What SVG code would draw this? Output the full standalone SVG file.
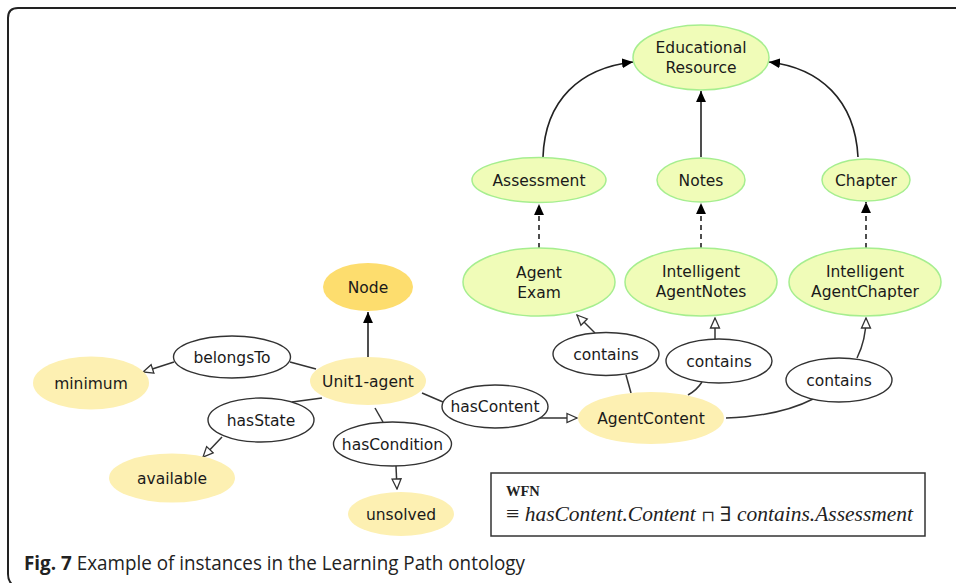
<svg xmlns="http://www.w3.org/2000/svg" width="956" height="583" viewBox="0 0 956 583">
<style>
.lbl{font-family:"DejaVu Sans",Verdana,sans-serif;font-size:15.5px;fill:#1a1a1a;text-anchor:middle}
.green{fill:#f0fcb8;stroke:#a6ee8f;stroke-width:1.5}
.yel{fill:#fdf0b2;stroke:none}
.cls{fill:#fddd6e;stroke:none}
.prop{fill:#fff;stroke:#333;stroke-width:1.4}
.e{fill:none;stroke:#333;stroke-width:1.5}
.ef{fill:none;stroke:#222;stroke-width:1.6;marker-end:url(#af)}
.eo{fill:none;stroke:#333;stroke-width:1.5;marker-end:url(#ao)}
.ed{fill:none;stroke:#222;stroke-width:1.6;stroke-dasharray:5 4;marker-end:url(#af)}
</style>
<defs>
<marker id="af" viewBox="0 0 10 10" refX="10" refY="5" markerWidth="11" markerHeight="11" orient="auto" markerUnits="userSpaceOnUse"><path d="M0,0.5 L10,5 L0,9.5 z" fill="#000"/></marker>
<marker id="ao" viewBox="0 0 12 12" refX="11" refY="6" markerWidth="12" markerHeight="12" orient="auto" markerUnits="userSpaceOnUse"><path d="M1,1.5 L11,6 L1,10.5 z" fill="#fff" stroke="#333" stroke-width="1.3"/></marker>
</defs>
<rect width="956" height="583" fill="#fff"/>
<path d="M956,8 H18 Q8,8 8,18 V574 Q8,582 14,586" fill="none" stroke="#222" stroke-width="2"/>

<g id="connectors">
<path class="ef" d="M543,157 C545,100 580,68 633,62"/>
<path class="ef" d="M701,157 L701,91"/>
<path class="ef" d="M858,157 C855,100 820,68 769,62"/>
<path class="ed" d="M539,248 L539,204"/>
<path class="ed" d="M701,248 L701,203"/>
<path class="ed" d="M866,248 L866,202"/>
<path class="ef" d="M368,357 L368,312"/>
<path class="e" d="M316,369 L290,362"/>
<path class="eo" d="M174,362 L143,372"/>
<path class="e" d="M322,398 L292,402"/>
<path class="eo" d="M222,437 L203,457"/>
<path class="e" d="M375,408 L383,422"/>
<path class="eo" d="M396,466 L397,489"/>
<path class="e" d="M422,393 L443,402"/>
<path class="eo" d="M540,418 L577,418"/>
<path class="e" d="M631,393 L626,375"/>
<path class="eo" d="M595,333 L577,315"/>
<path class="e" d="M688,395 Q697,390 702,382"/>
<path class="eo" d="M715,339 L715,318"/>
<path class="e" d="M726,418 Q780,416 813,399"/>
<path class="eo" d="M857,358 Q866,340 866,318"/>
</g>

<g id="n-eduresource"><ellipse class="green" cx="701" cy="57.5" rx="68" ry="32.5"/><text class="lbl" x="701" y="53">Educational</text><text class="lbl" x="701" y="73">Resource</text></g>
<g id="n-assessment"><ellipse class="green" cx="539" cy="180" rx="67" ry="22.5"/><text class="lbl" x="539" y="185.5">Assessment</text></g>
<g id="n-notes"><ellipse class="green" cx="701" cy="180" rx="44" ry="22"/><text class="lbl" x="701" y="185.5">Notes</text></g>
<g id="n-chapter"><ellipse class="green" cx="866" cy="180" rx="44" ry="21"/><text class="lbl" x="866" y="185.5">Chapter</text></g>
<g id="n-agentexam"><ellipse class="green" cx="539" cy="282" rx="76" ry="34"/><text class="lbl" x="539" y="278">Agent</text><text class="lbl" x="539" y="298">Exam</text></g>
<g id="n-agentnotes"><ellipse class="green" cx="701" cy="282" rx="76" ry="34"/><text class="lbl" x="701" y="277">Intelligent</text><text class="lbl" x="701" y="297">AgentNotes</text></g>
<g id="n-agentchapter"><ellipse class="green" cx="865" cy="282" rx="76" ry="34"/><text class="lbl" x="865" y="277">Intelligent</text><text class="lbl" x="865" y="297">AgentChapter</text></g>

<g id="n-node"><ellipse class="cls" cx="368" cy="287" rx="45" ry="24"/><text class="lbl" x="368" y="292.5">Node</text></g>
<g id="n-unit1"><ellipse class="yel" cx="368" cy="381" rx="58" ry="24"/><text class="lbl" x="368" y="386.5">Unit1-agent</text></g>
<g id="n-belongsto"><ellipse class="prop" cx="232" cy="357" rx="58.5" ry="21"/><text class="lbl" x="232" y="362.5">belongsTo</text></g>
<g id="n-minimum"><ellipse class="yel" cx="91" cy="383" rx="58" ry="26.5"/><text class="lbl" x="91" y="388.5">minimum</text></g>
<g id="n-hasstate"><ellipse class="prop" cx="261" cy="420" rx="53" ry="22"/><text class="lbl" x="261" y="425.5">hasState</text></g>
<g id="n-available"><ellipse class="yel" cx="172" cy="478" rx="63" ry="24.5"/><text class="lbl" x="172" y="483.5">available</text></g>
<g id="n-hascondition"><ellipse class="prop" cx="392.5" cy="444" rx="59" ry="22"/><text class="lbl" x="392.5" y="449.5">hasCondition</text></g>
<g id="n-unsolved"><ellipse class="yel" cx="401" cy="514" rx="53" ry="22"/><text class="lbl" x="401" y="519.5">unsolved</text></g>
<g id="n-hascontent"><ellipse class="prop" cx="495" cy="406.5" rx="53" ry="21.5"/><text class="lbl" x="495" y="412">hasContent</text></g>
<g id="n-agentcontent"><ellipse class="yel" cx="651" cy="418" rx="73" ry="26"/><text class="lbl" x="651" y="423.5">AgentContent</text></g>
<g id="n-contains1"><ellipse class="prop" cx="606" cy="354" rx="53" ry="21.5"/><text class="lbl" x="606" y="359.5">contains</text></g>
<g id="n-contains2"><ellipse class="prop" cx="719" cy="361" rx="53" ry="22"/><text class="lbl" x="719" y="366.5">contains</text></g>
<g id="n-contains3"><ellipse class="prop" cx="839" cy="380" rx="53" ry="22"/><text class="lbl" x="839" y="385.5">contains</text></g>

<g id="wfn">
<rect x="491" y="473" width="434" height="63" fill="#fff" stroke="#333" stroke-width="1.5"/>
<text x="506" y="496" font-family="Liberation Serif,DejaVu Serif,serif" font-weight="bold" font-size="14.5" fill="#222">WFN</text>
<text x="506" y="521" font-family="Liberation Serif,DejaVu Serif,serif" font-size="20" fill="#222" textLength="407" lengthAdjust="spacingAndGlyphs"><tspan font-size="22">≡</tspan> <tspan font-style="italic">hasContent.Content</tspan> <tspan font-size="15">⊓</tspan> ∃ <tspan font-style="italic">contains.Assessment</tspan></text>
</g>

<text x="24" y="570" font-family="Open Sans,Noto Sans,sans-serif" font-size="19.5" fill="#222" textLength="501" lengthAdjust="spacingAndGlyphs"><tspan font-weight="bold">Fig. 7</tspan> Example of instances in the Learning Path ontology</text>
</svg>
